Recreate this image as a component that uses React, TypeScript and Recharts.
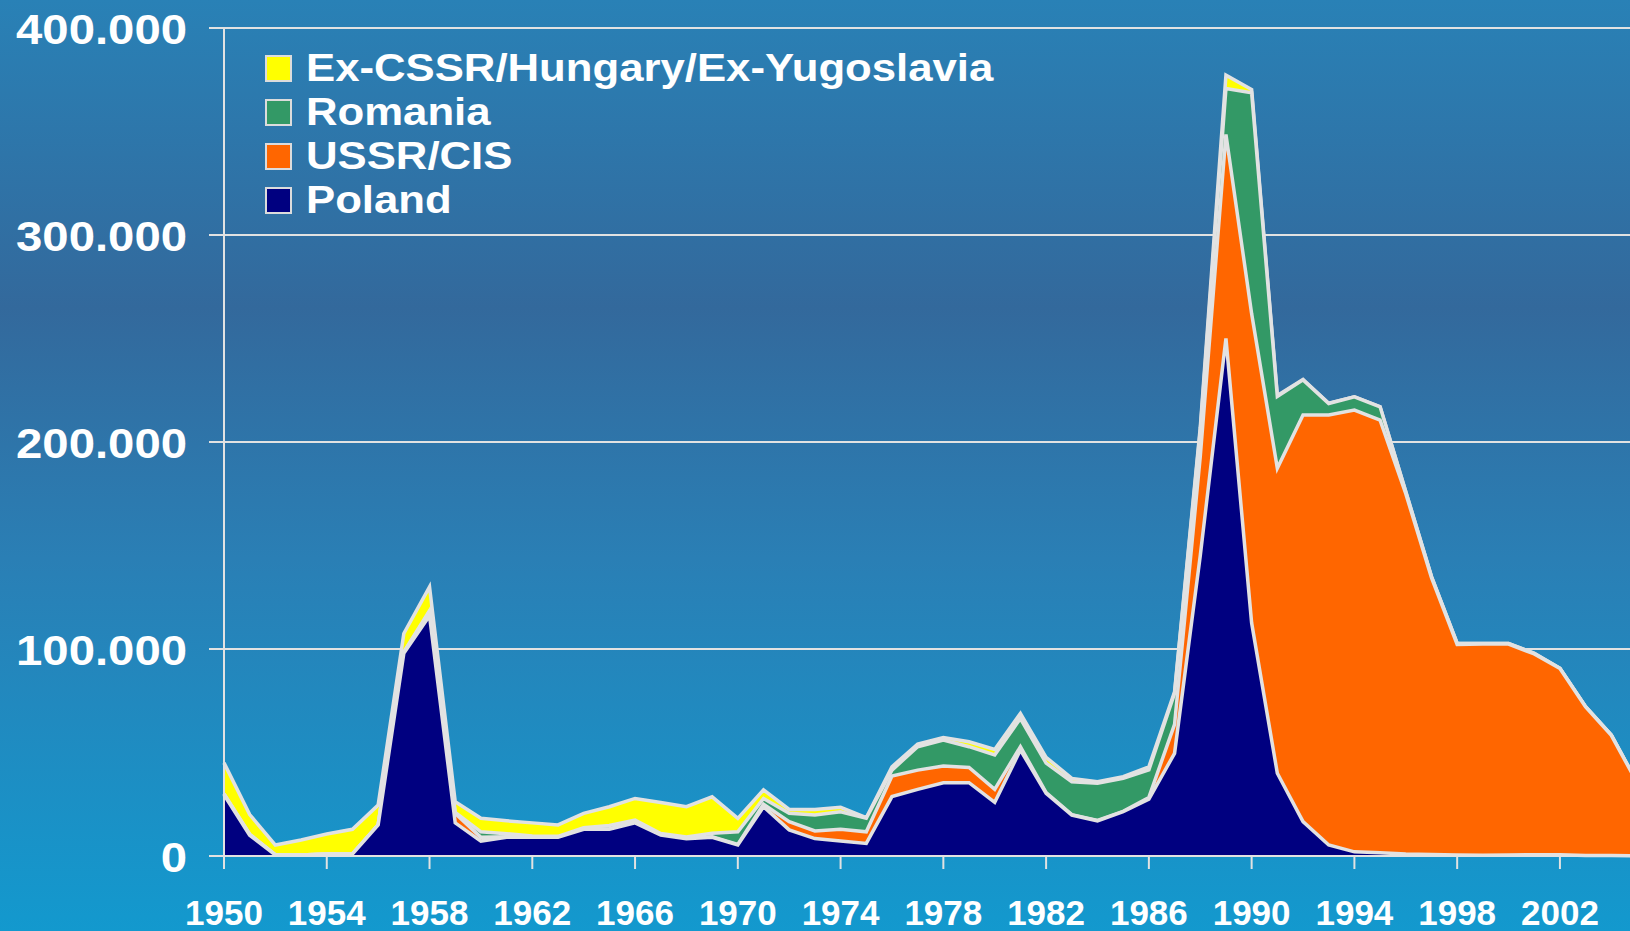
import { AreaChart, Area, XAxis, YAxis, CartesianGrid } from "recharts";

const years = [
  1950, 1951, 1952, 1953, 1954, 1955, 1956, 1957, 1958, 1959,
  1960, 1961, 1962, 1963, 1964, 1965, 1966, 1967, 1968, 1969,
  1970, 1971, 1972, 1973, 1974, 1975, 1976, 1977, 1978, 1979,
  1980, 1981, 1982, 1983, 1984, 1985, 1986, 1987, 1988, 1989,
  1990, 1991, 1992, 1993, 1994, 1995, 1996, 1997, 1998, 1999,
  2000, 2001, 2002, 2003, 2004, 2005,
];

const poland = [
  29500, 10000, 500, 500, 1000, 1000, 15000, 98000, 116000, 16000,
  7200, 9000, 9000, 9000, 12900, 12900, 16000, 10100, 8300, 9000,
  5300, 23800, 12600, 8400, 7200, 6100, 28700, 32200, 35400, 35400,
  25900, 51200, 30300, 19800, 17000, 21400, 27500, 49600, 145000, 250000,
  112600, 40000, 16600, 5300, 2000, 1600, 1000, 700, 500, 400,
  500, 600, 600, 300, 200, 100,
];

const ussr = [
  500, 500, 0, 0, 0, 0, 0, 500, 2000, 4600,
  1800, 300, 200, 200, 200, 300, 300, 300, 300, 300,
  300, 1200, 4000, 3700, 5700, 5600, 9900, 9300, 8100, 7400,
  6300, 1600, 300, 200, 200, 200, 800, 14000, 48000, 98600,
  149400, 147300, 196400, 207700, 213400, 209000, 174000, 133800, 101700, 102000,
  101900, 97000, 90000, 71700, 58100, 35400,
];

const romania = [
  0, 0, 0, 0, 0, 0, 0, 0, 500, 500,
  2700, 1500, 500, 300, 500, 1500, 1100, 500, 600, 1700,
  6100, 2800, 4000, 7700, 8500, 6500, 2900, 11300, 12500, 10000,
  16600, 13600, 14300, 15900, 17900, 15900, 13300, 14900, 12500, 22200,
  106700, 34700, 17000, 5600, 6400, 6400, 1000, 500, 500, 300,
  300, 300, 100, 100, 100, 100,
];

const exCssr = [
  15000, 9500, 4800, 7200, 9600, 11900, 9600, 9000, 11500, 5100,
  6500, 6200, 6300, 5500, 7000, 9100, 10400, 14900, 14600, 17600,
  6500, 4100, 1900, 2700, 2100, 300, 1600, 1300, 1200, 2400,
  2700, 2500, 2800, 1600, 800, 800, 1500, 800, 1500, 6400,
  1600, 500, 200, 100, 0, 0, 0, 0, 0, 0,
  0, 0, 0, 0, 0, 0,
];

const xTicks = [1950, 1954, 1958, 1962, 1966, 1970, 1974, 1978, 1982, 1986, 1990, 1994, 1998, 2002];
const yTicks = [0, 100000, 200000, 300000, 400000];

// top of the legend first; reverseStackOrder puts Poland at the bottom
const series = [
  { key: "exCssr", name: "Ex-CSSR/Hungary/Ex-Yugoslavia", color: "#FFFF00" },
  { key: "romania", name: "Romania", color: "#339966" },
  { key: "ussr", name: "USSR/CIS", color: "#FF6600" },
  { key: "poland", name: "Poland", color: "#000080" },
];

const data = years.map((year, i) => ({
  year,
  poland: poland[i],
  ussr: ussr[i],
  romania: romania[i],
  exCssr: exCssr[i],
}));

const FONT = "'Liberation Sans', Arial, sans-serif";
const LINE = "#e2e2e2";

const fmt = (v: number) => (v === 0 ? "0" : `${v / 1000}.000`);

function YTick(props: any) {
  const { x, y, payload } = props;
  return (
    <text
      transform={`translate(${x - 20},${y + 15.5}) scale(1.1,1)`}
      textAnchor="end"
      fill="#ffffff"
      fontSize={43}
      fontWeight="bold"
      fontFamily={FONT}
    >
      {fmt(payload.value)}
    </text>
  );
}

function XTick(props: any) {
  const { x, y, payload } = props;
  return (
    <text x={x} y={y + 54} textAnchor="middle" fill="#ffffff" fontSize={35} fontWeight="bold" fontFamily={FONT}>
      {payload.value}
    </text>
  );
}

// legend drawn as plain html over the plot so it takes no room from it
function LegendBox() {
  return (
    <div style={{ position: "absolute", left: 265, top: 46 }}>
      {series.map((s) => (
        <div key={s.key} style={{ display: "flex", alignItems: "center", height: 44 }}>
          <div
            style={{
              width: 23,
              height: 23,
              background: s.color,
              border: "2px solid #dcdcdc",
              marginRight: 14,
            }}
          />
          <span
            style={{
              fontFamily: FONT,
              fontWeight: "bold",
              fontSize: 38,
              lineHeight: "44px",
              color: "#ffffff",
              whiteSpace: "nowrap",
              display: "inline-block",
              transform: "scaleX(1.15)",
              transformOrigin: "left center",
            }}
          >
            {s.name}
          </span>
        </div>
      ))}
    </div>
  );
}

export default function App() {
  return (
    <div
      style={{
        position: "absolute",
        left: 0,
        top: 0,
        width: 1630,
        height: 931,
        overflow: "hidden",
        background: "linear-gradient(180deg, #2981b6 0%, #33699c 33%, #2a7fb5 60%, #1399ce 100%)",
      }}
    >
      <AreaChart
        width={1637}
        height={931}
        data={data}
        margin={{ top: 28, right: 0, bottom: 0, left: 0 }}
        reverseStackOrder
      >
        <CartesianGrid vertical={false} stroke={LINE} strokeWidth={2} />
        {series.map((s) => (
          <Area
            key={s.key}
            dataKey={s.key}
            name={s.name}
            stackId="1"
            type="linear"
            fill={s.color}
            fillOpacity={1}
            stroke={LINE}
            strokeWidth={3.5}
            isAnimationActive={false}
          />
        ))}
        <XAxis
          dataKey="year"
          type="number"
          domain={[1950, 2005]}
          ticks={xTicks}
          interval={0}
          height={75}
          tickSize={13}
          axisLine={{ stroke: LINE, strokeWidth: 2 }}
          tickLine={{ stroke: LINE, strokeWidth: 2 }}
          tick={<XTick />}
        />
        <YAxis
          domain={[0, 400000]}
          ticks={yTicks}
          width={224}
          tickSize={15}
          axisLine={{ stroke: LINE, strokeWidth: 2 }}
          tickLine={{ stroke: LINE, strokeWidth: 2 }}
          tick={<YTick />}
        />
      </AreaChart>
      <LegendBox />
    </div>
  );
}
